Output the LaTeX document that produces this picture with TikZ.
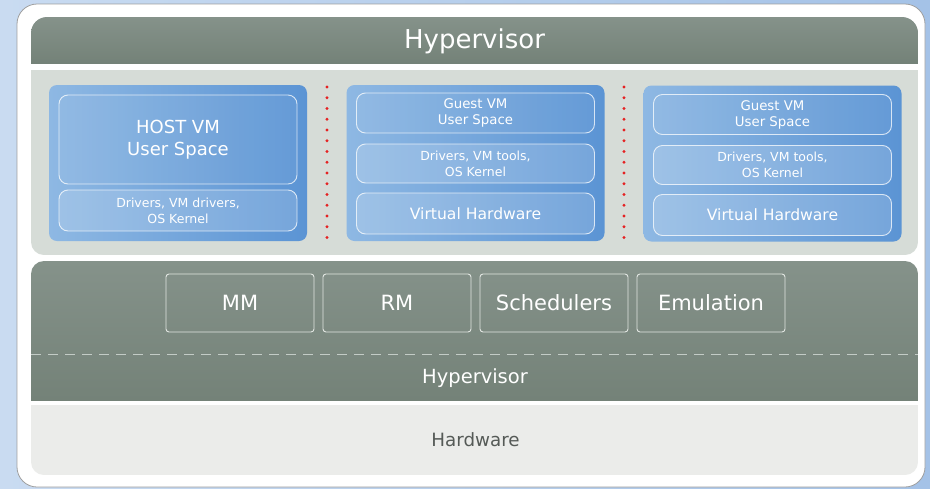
\documentclass[tikz,border=0pt]{standalone}
\usepackage{fontspec}
\setmainfont{DejaVu Sans}
\usetikzlibrary{positioning}

\definecolor{bgleft}{HTML}{C9DBF1}
\definecolor{bgright}{HTML}{A4C2E7}
\definecolor{bandtop}{HTML}{85928A}
\definecolor{bandbot}{HTML}{748278}
\definecolor{panelgray}{HTML}{D6DCD7}
\definecolor{hwgray}{HTML}{EBECEA}
\definecolor{hwtext}{HTML}{555A57}
\definecolor{vmleft}{HTML}{8EB8E3}
\definecolor{vmright}{HTML}{5B94D4}
\definecolor{unitline}{HTML}{E2E6E2}
\definecolor{dashgray}{HTML}{C3CCC6}
\definecolor{sepred}{HTML}{E52222}

\tikzset{
  vmbox/.style={rounded corners=8pt, left color=vmleft, right color=vmright,
    minimum width=258pt, minimum height=156pt, inner sep=0pt, outer sep=0pt},
  layer/.style={rounded corners=9pt, draw=white, draw opacity=0.75, line width=0.9pt,
    fill=white, fill opacity=0.05, text opacity=1, text=white, align=center,
    minimum width=238pt, inner sep=0pt, outer sep=0pt},
  layer light/.style={layer, fill opacity=0.16},
  unit/.style={draw=unitline, rounded corners=3pt, line width=0.9pt,
    minimum width=148pt, minimum height=58pt, inner sep=0pt, outer sep=0pt,
    text=white, font=\fontsize{21}{25}\selectfont},
  small/.style={font=\fontsize{12.5}{16}\selectfont},
}

\begin{document}
\begin{tikzpicture}[x=1pt, y=-1pt]
	% backdrop and frame
	\shade[left color=bgleft, right color=bgright] (0,0) rectangle (930,488);
	\useasboundingbox (0,0) rectangle (930,488);
	\draw[fill=white, draw=gray!75, line width=0.8pt, rounded corners=20pt] (17,4) rectangle (925,487);

	% top hypervisor band
	\begin{scope}
		\clip[rounded corners=16pt] (31,17) rectangle (918,100);
		\shade[top color=bandtop, bottom color=bandbot] (31,17) rectangle (918,63);
	\end{scope}
	\node[text=white, font=\fontsize{26}{30}\selectfont] (hvtop) at (474.5,41) {Hypervisor};

	% guest panel
	\begin{scope}
		\clip[rounded corners=13pt] (31,20) rectangle (918,255);
		\fill[panelgray] (31,70) rectangle (918,255);
	\end{scope}

	% virtual machines
	\node[vmbox] (vm1) at (178,163) {};
	\node[vmbox] (vm2) at (475.5,163) {};
	\node[vmbox] (vm3) at (772.5,163.5) {};

	\node[layer, minimum height=89pt, below=10pt of vm1.north,
		font=\fontsize{18}{22}\selectfont] (user1) {HOST VM\\User Space};
	\node[layer light, minimum height=41pt, below=6pt of user1, small] (drv1) {Drivers, VM drivers,\\OS Kernel};

	\node[layer, minimum height=40pt, below=8pt of vm2.north,
		font=\fontsize{13.3}{16}\selectfont] (user2) {Guest VM\\User Space};
	\node[layer light, minimum height=39pt, below=11pt of user2, small] (drv2) {Drivers, VM tools,\\OS Kernel};
	\node[layer light, minimum height=41pt, below=10pt of drv2,
		font=\fontsize{15.6}{19}\selectfont] (vhw2) {Virtual Hardware};

	\node[layer, minimum height=40pt, below=9pt of vm3.north,
		font=\fontsize{13.3}{16}\selectfont] (user3) {Guest VM\\User Space};
	\node[layer light, minimum height=39pt, below=11pt of user3, small] (drv3) {Drivers, VM tools,\\OS Kernel};
	\node[layer light, minimum height=41pt, below=10pt of drv3,
		font=\fontsize{15.6}{19}\selectfont] (vhw3) {Virtual Hardware};

	% red separators
	\foreach \sx in {327,624}
		\foreach \k in {0,...,14}
			\fill[sepred] (\sx,87+10.75*\k) circle (1.7pt);

	% hypervisor core
	\begin{scope}
		\clip[rounded corners=13pt] (31,261) rectangle (918,440);
		\shade[top color=bandtop, bottom color=bandbot] (31,261) rectangle (918,400);
	\end{scope}
	\node[unit] (mm) at (240,303) {MM};
	\node[unit, right=9pt of mm] (rm) {RM};
	\node[unit, right=9pt of rm] (sched) {Schedulers};
	\node[unit, right=9pt of sched] (emu) {Emulation};

	\coordinate (dashL) at (31,354);
	\coordinate (dashR) at (918,354);
	\draw[dashgray, line width=1pt, dash pattern=on 10pt off 7pt] (dashL) -- (dashR);
	\node[text=white, font=\fontsize{19.5}{23}\selectfont] (hvlow) at (475,378) {Hypervisor};

	% hardware
	\begin{scope}
		\clip[rounded corners=13pt] (31,380) rectangle (918,475);
		\fill[hwgray] (31,405) rectangle (918,475);
	\end{scope}
	\node[text=hwtext, font=\fontsize{18.3}{22}\selectfont] (hw) at (475.5,440) {Hardware};
\end{tikzpicture}
\end{document}
